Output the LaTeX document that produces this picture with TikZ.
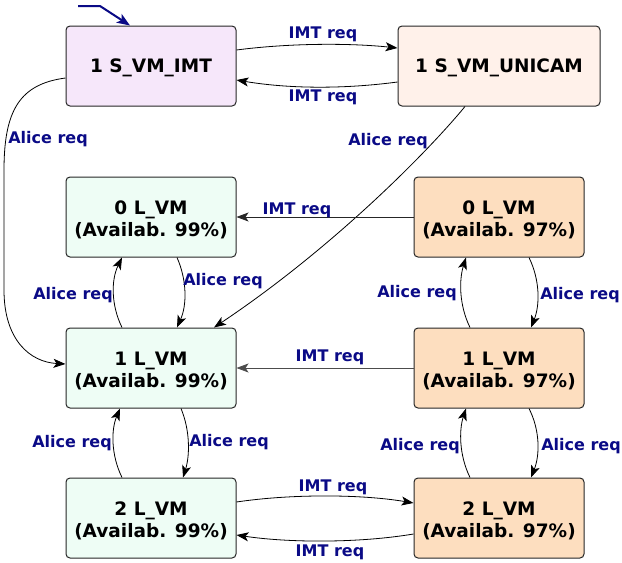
\documentclass[tikz,border=0pt]{standalone}
\usepackage{fontspec}
\setmainfont{DejaVu Sans}
\usetikzlibrary{arrows.meta}
\definecolor{imtfill}{HTML}{F6E7FA}
\definecolor{unifill}{HTML}{FFF1EA}
\definecolor{mintfill}{HTML}{EEFDF5}
\definecolor{peachfill}{HTML}{FDDEBF}
\definecolor{lblblue}{HTML}{0A0A86}
\begin{document}
\begin{tikzpicture}[x=1pt,y=-1pt,
  state/.style={draw=black!85, line width=1pt, rounded corners=4pt,
    minimum width=170pt, minimum height=80pt, align=center, inner sep=0pt,
    font=\fontsize{18.5}{22}\selectfont\bfseries},
  oneline/.style={state, text height=16.5pt},
  twoline/.style={state, text height=40.5pt},
  lbl/.style={text=lblblue, inner sep=0pt, yshift=-2pt,
    font=\fontsize{16}{18}\selectfont\bfseries},
  tr/.style={-{Stealth[length=12pt,width=9pt,inset=3pt]}, line width=0.8pt}
]
\useasboundingbox (0,0) rectangle (622,563);

% states
\node[oneline, fill=imtfill] (imt) at (151,66) {1 S\_VM\_IMT};
\node[oneline, fill=unifill, minimum width=202pt] (uni) at (499,66) {1 S\_VM\_UNICAM};
\node[twoline, fill=mintfill]  (a0) at (151,217) {0 L\_VM\\(Availab. 99\%)};
\node[twoline, fill=peachfill] (b0) at (499,217) {0 L\_VM\\(Availab. 97\%)};
\node[twoline, fill=mintfill]  (a1) at (151,368) {1 L\_VM\\(Availab. 99\%)};
\node[twoline, fill=peachfill] (b1) at (499,368) {1 L\_VM\\(Availab. 97\%)};
\node[twoline, fill=mintfill]  (a2) at (151,518) {2 L\_VM\\(Availab. 99\%)};
\node[twoline, fill=peachfill] (b2) at (499,518) {2 L\_VM\\(Availab. 97\%)};

% initial arrow
\coordinate (start) at (78,6);
\draw[lblblue, line width=2pt, -{Stealth[length=13pt,width=10pt,inset=3pt]}]
  (start) -- (100,6) -- ([xshift=-21pt]imt.north);

% IMT <-> UNICAM
\draw[tr] ([yshift=16pt]imt.east) .. controls (290,43) and (350,43) .. ([yshift=18pt]uni.west);
\draw[tr] ([yshift=-16pt]uni.west) .. controls (345,89) and (290,89) .. ([yshift=-14pt]imt.east);
\node[lbl] (limt1) at (323,32) {IMT req};
\node[lbl] (limt2) at (323,95) {IMT req};

% Alice requests from the S states
\draw[tr] ([yshift=-12pt]imt.west) .. controls (20,84) and (4,110) .. (4,170)
  -- (4,290) .. controls (4,340) and (30,362) .. ([yshift=4pt]a1.west);
\node[lbl] (lal1) at (48,137) {Alice req};
\draw[tr] ([xshift=-34pt]uni.south) .. controls (425,155) and (330,250) .. ([xshift=63pt]a1.north);
\node[lbl] (lal2) at (388,139) {Alice req};

% IMT requests between columns
\draw[tr, black!85] (b0.west) -- (a0.east);
\node[lbl] (limt3) at (297,208) {IMT req};
\draw[tr, black!70] (b1.west) -- (a1.east);
\node[lbl] (limt4) at (330,355) {IMT req};
\draw[tr] ([yshift=16pt]a2.east) .. controls (290,494) and (360,494) .. ([yshift=15pt]b2.west);
\draw[tr] ([yshift=-16pt]b2.west) .. controls (360,543) and (290,543) .. ([yshift=-17pt]a2.east);
\node[lbl] (limt5) at (333,485) {IMT req};
\node[lbl] (limt6) at (330,550) {IMT req};

% left column Alice requests
\draw[tr] ([xshift=-29pt]a1.north) .. controls (111,305) and (111,280) .. ([xshift=-29pt]a0.south);
\draw[tr] ([xshift=26pt]a0.south) .. controls (187,280) and (187,305) .. ([xshift=26pt]a1.north);
\node[lbl] (la1) at (73,293) {Alice req};
\node[lbl] (la2) at (223,279) {Alice req};
\draw[tr] ([xshift=-29pt]a2.north) .. controls (111,455) and (111,430) .. ([xshift=-31pt]a1.south);
\draw[tr] ([xshift=30pt]a1.south) .. controls (190,430) and (190,455) .. ([xshift=32pt]a2.north);
\node[lbl] (la3) at (72,441) {Alice req};
\node[lbl] (la4) at (229,440) {Alice req};

% right column Alice requests
\draw[tr] ([xshift=-29pt]b1.north) .. controls (459,305) and (459,280) .. ([xshift=-33pt]b0.south);
\draw[tr] ([xshift=30pt]b0.south) .. controls (540,280) and (540,305) .. ([xshift=32pt]b1.north);
\node[lbl] (lb1) at (417,291) {Alice req};
\node[lbl] (lb2) at (580,293) {Alice req};
\draw[tr] ([xshift=-29pt]b2.north) .. controls (459,455) and (459,430) .. ([xshift=-33pt]b1.south);
\draw[tr] ([xshift=30pt]b1.south) .. controls (540,430) and (540,455) .. ([xshift=32pt]b2.north);
\node[lbl] (lb3) at (420,444) {Alice req};
\node[lbl] (lb4) at (581,444) {Alice req};
\end{tikzpicture}
\end{document}
